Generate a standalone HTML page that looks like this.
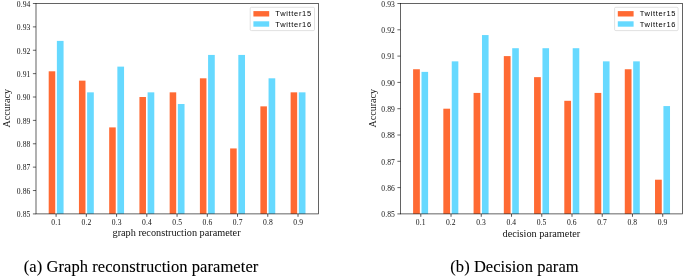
<!DOCTYPE html>
<html><head><meta charset="utf-8"><title>fig</title>
<style>
html,body{margin:0;padding:0;background:#fff;}
body{width:685px;height:276px;overflow:hidden;}
svg{display:block;will-change:transform;}
text{font-family:"Liberation Serif",serif;fill:#111;}
.tk{font-size:7.6px;letter-spacing:0.1px;}
.lb{font-size:10.25px;}
.yl{font-size:10.1px;}
.cap{font-size:16.5px;fill:#000;stroke:#000;stroke-width:0.1px;}
.lg{font-family:"Liberation Sans",sans-serif;font-size:7.5px;fill:#000;}
</style></head><body>
<svg width="685" height="276" viewBox="0 0 685 276">
<rect width="685" height="276" fill="#fff"/>
<rect x="48.70" y="71.30" width="6.55" height="142.60" fill="#FF6A33"/>
<rect x="56.88" y="40.90" width="6.69" height="173.00" fill="#66D9FF"/>
<rect x="78.94" y="80.65" width="6.55" height="133.25" fill="#FF6A33"/>
<rect x="87.12" y="92.34" width="6.69" height="121.56" fill="#66D9FF"/>
<rect x="109.18" y="127.40" width="6.55" height="86.50" fill="#FF6A33"/>
<rect x="117.36" y="66.62" width="6.69" height="147.28" fill="#66D9FF"/>
<rect x="139.42" y="97.01" width="6.55" height="116.89" fill="#FF6A33"/>
<rect x="147.60" y="92.34" width="6.69" height="121.56" fill="#66D9FF"/>
<rect x="169.66" y="92.34" width="6.55" height="121.56" fill="#FF6A33"/>
<rect x="177.84" y="104.02" width="6.69" height="109.88" fill="#66D9FF"/>
<rect x="199.90" y="78.31" width="6.55" height="135.59" fill="#FF6A33"/>
<rect x="208.08" y="54.93" width="6.69" height="158.97" fill="#66D9FF"/>
<rect x="230.14" y="148.44" width="6.55" height="65.46" fill="#FF6A33"/>
<rect x="238.32" y="54.93" width="6.69" height="158.97" fill="#66D9FF"/>
<rect x="260.38" y="106.36" width="6.55" height="107.54" fill="#FF6A33"/>
<rect x="268.56" y="78.31" width="6.69" height="135.59" fill="#66D9FF"/>
<rect x="290.62" y="92.34" width="6.55" height="121.56" fill="#FF6A33"/>
<rect x="298.80" y="92.34" width="6.69" height="121.56" fill="#66D9FF"/>
<rect x="36.0" y="3.5" width="282.50" height="210.40" fill="none" stroke="#111" stroke-width="0.65"/>
<line x1="56.10" y1="213.9" x2="56.10" y2="216.80" stroke="#111" stroke-width="0.7"/>
<text x="56.24" y="225.10" text-anchor="middle" class="tk">0.1</text>
<line x1="86.34" y1="213.9" x2="86.34" y2="216.80" stroke="#111" stroke-width="0.7"/>
<text x="86.48" y="225.10" text-anchor="middle" class="tk">0.2</text>
<line x1="116.58" y1="213.9" x2="116.58" y2="216.80" stroke="#111" stroke-width="0.7"/>
<text x="116.72" y="225.10" text-anchor="middle" class="tk">0.3</text>
<line x1="146.82" y1="213.9" x2="146.82" y2="216.80" stroke="#111" stroke-width="0.7"/>
<text x="146.96" y="225.10" text-anchor="middle" class="tk">0.4</text>
<line x1="177.06" y1="213.9" x2="177.06" y2="216.80" stroke="#111" stroke-width="0.7"/>
<text x="177.20" y="225.10" text-anchor="middle" class="tk">0.5</text>
<line x1="207.30" y1="213.9" x2="207.30" y2="216.80" stroke="#111" stroke-width="0.7"/>
<text x="207.44" y="225.10" text-anchor="middle" class="tk">0.6</text>
<line x1="237.54" y1="213.9" x2="237.54" y2="216.80" stroke="#111" stroke-width="0.7"/>
<text x="237.68" y="225.10" text-anchor="middle" class="tk">0.7</text>
<line x1="267.78" y1="213.9" x2="267.78" y2="216.80" stroke="#111" stroke-width="0.7"/>
<text x="267.92" y="225.10" text-anchor="middle" class="tk">0.8</text>
<line x1="298.02" y1="213.9" x2="298.02" y2="216.80" stroke="#111" stroke-width="0.7"/>
<text x="298.16" y="225.10" text-anchor="middle" class="tk">0.9</text>
<line x1="32.90" y1="213.90" x2="36.0" y2="213.90" stroke="#111" stroke-width="0.65"/>
<text x="30.50" y="217.20" text-anchor="end" class="tk">0.85</text>
<line x1="32.90" y1="190.52" x2="36.0" y2="190.52" stroke="#111" stroke-width="0.65"/>
<text x="30.50" y="193.82" text-anchor="end" class="tk">0.86</text>
<line x1="32.90" y1="167.14" x2="36.0" y2="167.14" stroke="#111" stroke-width="0.65"/>
<text x="30.50" y="170.44" text-anchor="end" class="tk">0.87</text>
<line x1="32.90" y1="143.77" x2="36.0" y2="143.77" stroke="#111" stroke-width="0.65"/>
<text x="30.50" y="147.07" text-anchor="end" class="tk">0.88</text>
<line x1="32.90" y1="120.39" x2="36.0" y2="120.39" stroke="#111" stroke-width="0.65"/>
<text x="30.50" y="123.69" text-anchor="end" class="tk">0.89</text>
<line x1="32.90" y1="97.01" x2="36.0" y2="97.01" stroke="#111" stroke-width="0.65"/>
<text x="30.50" y="100.31" text-anchor="end" class="tk">0.90</text>
<line x1="32.90" y1="73.63" x2="36.0" y2="73.63" stroke="#111" stroke-width="0.65"/>
<text x="30.50" y="76.93" text-anchor="end" class="tk">0.91</text>
<line x1="32.90" y1="50.26" x2="36.0" y2="50.26" stroke="#111" stroke-width="0.65"/>
<text x="30.50" y="53.56" text-anchor="end" class="tk">0.92</text>
<line x1="32.90" y1="26.88" x2="36.0" y2="26.88" stroke="#111" stroke-width="0.65"/>
<text x="30.50" y="30.18" text-anchor="end" class="tk">0.93</text>
<line x1="32.90" y1="3.50" x2="36.0" y2="3.50" stroke="#111" stroke-width="0.65"/>
<text x="30.50" y="6.80" text-anchor="end" class="tk">0.94</text>
<text x="112.5" y="236.45" class="lb">graph reconstruction parameter</text>
<text transform="translate(10.40,127.6) rotate(-90)" class="lb yl">Accuracy</text>
<rect x="250.2" y="7.3" width="64.30" height="23.3" rx="1.2" fill="#fff" fill-opacity="0.8" stroke="#ccc" stroke-width="0.6"/>
<rect x="253.40" y="11.1" width="15.8" height="5.4" fill="#FF6A33"/>
<rect x="253.40" y="21.3" width="15.8" height="5.4" fill="#66D9FF"/>
<text x="275.30" y="16.35" class="lg" textLength="35.8" lengthAdjust="spacing">Twitter15</text>
<text x="275.30" y="26.5" class="lg" textLength="35.8" lengthAdjust="spacing">Twitter16</text>
<rect x="413.10" y="69.25" width="6.75" height="144.65" fill="#FF6A33"/>
<rect x="421.50" y="71.88" width="6.60" height="142.02" fill="#66D9FF"/>
<rect x="443.34" y="108.70" width="6.75" height="105.20" fill="#FF6A33"/>
<rect x="451.74" y="61.36" width="6.60" height="152.54" fill="#66D9FF"/>
<rect x="473.58" y="92.92" width="6.75" height="120.98" fill="#FF6A33"/>
<rect x="481.98" y="35.06" width="6.60" height="178.84" fill="#66D9FF"/>
<rect x="503.82" y="56.10" width="6.75" height="157.80" fill="#FF6A33"/>
<rect x="512.22" y="48.21" width="6.60" height="165.69" fill="#66D9FF"/>
<rect x="534.06" y="77.14" width="6.75" height="136.76" fill="#FF6A33"/>
<rect x="542.46" y="48.21" width="6.60" height="165.69" fill="#66D9FF"/>
<rect x="564.30" y="100.81" width="6.75" height="113.09" fill="#FF6A33"/>
<rect x="572.70" y="48.21" width="6.60" height="165.69" fill="#66D9FF"/>
<rect x="594.54" y="92.92" width="6.75" height="120.98" fill="#FF6A33"/>
<rect x="602.94" y="61.36" width="6.60" height="152.54" fill="#66D9FF"/>
<rect x="624.78" y="69.25" width="6.75" height="144.65" fill="#FF6A33"/>
<rect x="633.18" y="61.36" width="6.60" height="152.54" fill="#66D9FF"/>
<rect x="655.02" y="179.71" width="6.75" height="34.19" fill="#FF6A33"/>
<rect x="663.42" y="106.07" width="6.60" height="107.83" fill="#66D9FF"/>
<rect x="400.5" y="3.5" width="282.00" height="210.40" fill="none" stroke="#111" stroke-width="0.65"/>
<line x1="420.80" y1="213.9" x2="420.80" y2="216.80" stroke="#111" stroke-width="0.7"/>
<text x="420.64" y="225.10" text-anchor="middle" class="tk">0.1</text>
<line x1="451.04" y1="213.9" x2="451.04" y2="216.80" stroke="#111" stroke-width="0.7"/>
<text x="450.88" y="225.10" text-anchor="middle" class="tk">0.2</text>
<line x1="481.28" y1="213.9" x2="481.28" y2="216.80" stroke="#111" stroke-width="0.7"/>
<text x="481.12" y="225.10" text-anchor="middle" class="tk">0.3</text>
<line x1="511.52" y1="213.9" x2="511.52" y2="216.80" stroke="#111" stroke-width="0.7"/>
<text x="511.36" y="225.10" text-anchor="middle" class="tk">0.4</text>
<line x1="541.76" y1="213.9" x2="541.76" y2="216.80" stroke="#111" stroke-width="0.7"/>
<text x="541.60" y="225.10" text-anchor="middle" class="tk">0.5</text>
<line x1="572.00" y1="213.9" x2="572.00" y2="216.80" stroke="#111" stroke-width="0.7"/>
<text x="571.84" y="225.10" text-anchor="middle" class="tk">0.6</text>
<line x1="602.24" y1="213.9" x2="602.24" y2="216.80" stroke="#111" stroke-width="0.7"/>
<text x="602.08" y="225.10" text-anchor="middle" class="tk">0.7</text>
<line x1="632.48" y1="213.9" x2="632.48" y2="216.80" stroke="#111" stroke-width="0.7"/>
<text x="632.32" y="225.10" text-anchor="middle" class="tk">0.8</text>
<line x1="662.72" y1="213.9" x2="662.72" y2="216.80" stroke="#111" stroke-width="0.7"/>
<text x="662.56" y="225.10" text-anchor="middle" class="tk">0.9</text>
<line x1="397.40" y1="213.90" x2="400.5" y2="213.90" stroke="#111" stroke-width="0.65"/>
<text x="395.00" y="217.20" text-anchor="end" class="tk">0.85</text>
<line x1="397.40" y1="187.60" x2="400.5" y2="187.60" stroke="#111" stroke-width="0.65"/>
<text x="395.00" y="190.90" text-anchor="end" class="tk">0.86</text>
<line x1="397.40" y1="161.30" x2="400.5" y2="161.30" stroke="#111" stroke-width="0.65"/>
<text x="395.00" y="164.60" text-anchor="end" class="tk">0.87</text>
<line x1="397.40" y1="135.00" x2="400.5" y2="135.00" stroke="#111" stroke-width="0.65"/>
<text x="395.00" y="138.30" text-anchor="end" class="tk">0.88</text>
<line x1="397.40" y1="108.70" x2="400.5" y2="108.70" stroke="#111" stroke-width="0.65"/>
<text x="395.00" y="112.00" text-anchor="end" class="tk">0.89</text>
<line x1="397.40" y1="82.40" x2="400.5" y2="82.40" stroke="#111" stroke-width="0.65"/>
<text x="395.00" y="85.70" text-anchor="end" class="tk">0.90</text>
<line x1="397.40" y1="56.10" x2="400.5" y2="56.10" stroke="#111" stroke-width="0.65"/>
<text x="395.00" y="59.40" text-anchor="end" class="tk">0.91</text>
<line x1="397.40" y1="29.80" x2="400.5" y2="29.80" stroke="#111" stroke-width="0.65"/>
<text x="395.00" y="33.10" text-anchor="end" class="tk">0.92</text>
<line x1="397.40" y1="3.50" x2="400.5" y2="3.50" stroke="#111" stroke-width="0.65"/>
<text x="395.00" y="6.80" text-anchor="end" class="tk">0.93</text>
<text x="502.5" y="236.5" class="lb">decision parameter</text>
<text transform="translate(375.60,127.6) rotate(-90)" class="lb yl">Accuracy</text>
<rect x="614.6" y="7.3" width="63.50" height="23.3" rx="1.2" fill="#fff" fill-opacity="0.8" stroke="#ccc" stroke-width="0.6"/>
<rect x="617.80" y="11.1" width="15.8" height="5.4" fill="#FF6A33"/>
<rect x="617.80" y="21.3" width="15.8" height="5.4" fill="#66D9FF"/>
<text x="639.70" y="16.35" class="lg" textLength="35.8" lengthAdjust="spacing">Twitter15</text>
<text x="639.70" y="26.5" class="lg" textLength="35.8" lengthAdjust="spacing">Twitter16</text>
<text x="23.8" y="272.4" class="cap" textLength="234.5" lengthAdjust="spacing">(a) Graph reconstruction parameter</text>
<text x="450.3" y="271.8" class="cap" textLength="128.3" lengthAdjust="spacing">(b) Decision param</text>
</svg>
</body></html>
